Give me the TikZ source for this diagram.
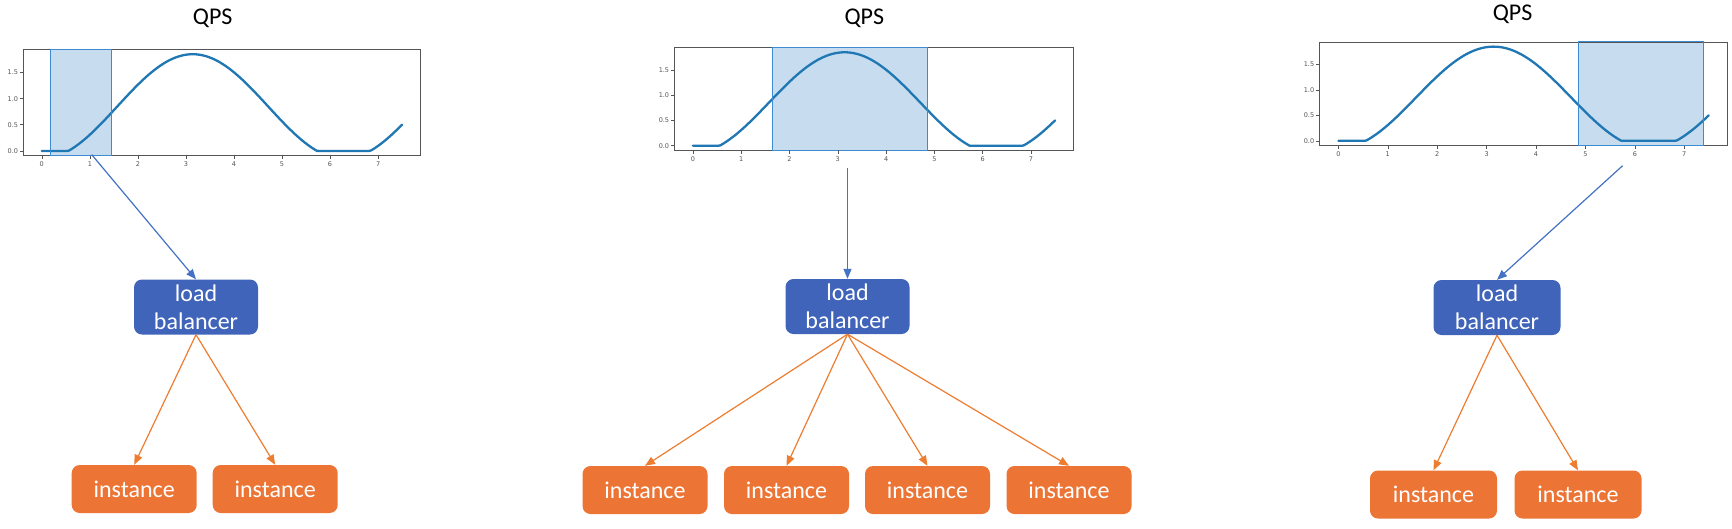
\documentclass[tikz,border=0pt]{standalone}
\usepackage{fontspec}
\setmainfont{Carlito}
\newfontfamily\tickfont{DejaVu Sans}
\usetikzlibrary{arrows.meta}
\definecolor{lbblue}{HTML}{3F64B9}
\definecolor{inorange}{HTML}{EC7535}
\definecolor{arrblue}{HTML}{4472C4}
\definecolor{arrorange}{HTML}{ED7D31}
\definecolor{mplblue}{HTML}{1F77B4}
\definecolor{spanfill}{HTML}{C7DCEE}
\definecolor{spanedge}{HTML}{3D8BD3}
\definecolor{axisgray}{HTML}{555555}
\tikzset{
  lbbox/.style={rectangle, rounded corners=8pt, fill=lbblue, text=white, minimum width=124pt, minimum height=55pt, inner sep=0pt, align=center, font=\fontsize{24}{28}\selectfont},
  instbox/.style={rectangle, rounded corners=8pt, fill=inorange, text=white, minimum width=125pt, minimum height=48pt, inner sep=0pt, font=\fontsize{24}{28}\selectfont},
  charttitle/.style={font=\fontsize{24}{27}\selectfont, text=black, inner sep=0pt},
  ticklbl/.style={font=\tickfont\fontsize{6.5}{7}\selectfont, text=axisgray, inner sep=0pt},
  bluearr/.style={draw=arrblue, line width=1.2pt, -{Triangle[length=10pt,width=8pt]}},
  orarr/.style={draw=arrorange, line width=1.2pt, -{Triangle[length=10pt,width=8pt]}}
}
\newcommand{\qpschart}[6]{%
 \begin{scope}[shift={(#1,#3)}, x=#2pt, y=#4pt]
   \fill[spanfill] (#5,-0.0925) rectangle (#6,1.9425);
   \draw[mplblue, line width=2.3pt, line join=round, line cap=round] plot[domain=0:7.5, samples=200] (\x,{max(0,0.85-cos(\x r))});
   \draw[axisgray, line width=0.8pt] (-0.375,-0.0925) rectangle (7.875,1.9425);
   \draw[spanedge, line width=1pt] (#5,-0.0925) rectangle (#6,1.9425);
   \foreach \t in {0,...,7} {
     \draw[axisgray, line width=0.6pt] (\t,-0.0925) -- ([yshift=-3.5pt]\t,-0.0925);
     \node[ticklbl, anchor=north] at ([yshift=-6pt]\t,-0.0925) {\t};
   }
   \foreach \v/\l in {0/0.0,0.5/0.5,1/1.0,1.5/1.5} {
     \draw[axisgray, line width=0.6pt] (-0.375,\v) -- ([xshift=-3.5pt]-0.375,\v);
     \node[ticklbl, anchor=east] at ([xshift=-5.5pt]-0.375,\v) {\l};
   }
 \end{scope}}
\begin{document}
\begin{tikzpicture}[x=1pt,y=-1pt]
\useasboundingbox[fill=white] (0,0) rectangle (1732,528);
% charts
\qpschart{41.8}{48.04}{150.9}{52.27}{0.177}{1.46}
\qpschart{692.9}{48.3}{145.7}{50.5}{1.65}{4.85}
\qpschart{1338.4}{49.4}{140.8}{50.9}{4.85}{7.39}
\node[charttitle] (t1) at (212.7,18.5) {QPS};
\node[charttitle] (t2) at (864.3,17.9) {QPS};
\node[charttitle] (t3) at (1512.6,14) {QPS};
% panel 1
\node[lbbox] (lb1) at (196,307) {load\\balancer};
\node[instbox] (i11) at (134.2,489) {instance};
\node[instbox] (i12) at (275.2,489) {instance};
\coordinate (s1) at (91.7,154.6);
\draw[bluearr] (s1) -- (lb1.north);
\draw[orarr] (lb1.south) -- (i11.north);
\draw[orarr] (lb1.south) -- (i12.north);
% panel 2
\node[lbbox] (lb2) at (847.5,306.5) {load\\balancer};
\node[instbox] (i21) at (645,490) {instance};
\node[instbox] (i22) at (786.5,490) {instance};
\node[instbox] (i23) at (927.5,490) {instance};
\node[instbox] (i24) at (1069,490) {instance};
\coordinate (s2) at (847.5,168);
\draw[bluearr] (s2) -- (lb2.north);
\foreach \n in {i21,i22,i23,i24} \draw[orarr] (lb2.south) -- (\n.north);
% panel 3
\node[lbbox, minimum width=127pt] (lb3) at (1497,307.5) {load\\balancer};
\node[instbox, minimum width=127pt] (i31) at (1433.5,494.5) {instance};
\node[instbox, minimum width=127pt] (i32) at (1578,494.5) {instance};
\coordinate (s3) at (1622.6,165.7);
\draw[bluearr] (s3) -- (lb3.north);
\draw[orarr] (lb3.south) -- (i31.north);
\draw[orarr] (lb3.south) -- (i32.north);
\end{tikzpicture}
\end{document}
